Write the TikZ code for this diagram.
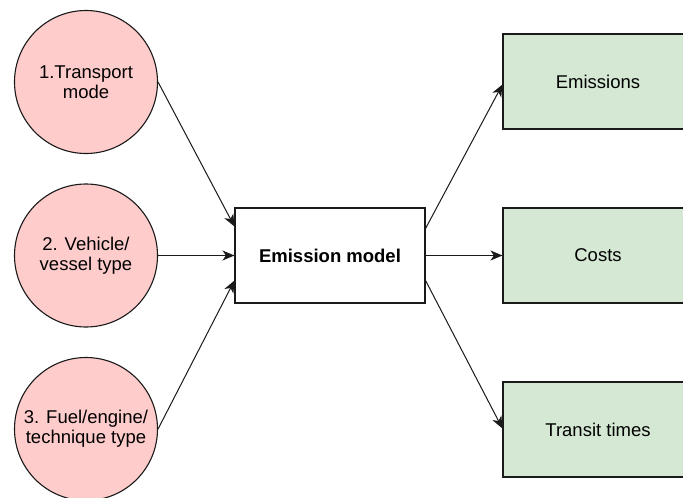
\documentclass[tikz,border=0pt]{standalone}
\usepackage{fontspec}
\setmainfont{Liberation Sans}
\usetikzlibrary{arrows.meta}
\definecolor{inputfill}{HTML}{FFCCCC}
\definecolor{outputfill}{HTML}{D5E8D4}
\definecolor{edgecol}{HTML}{1A1A1A}
\begin{document}
\begin{tikzpicture}[x=1pt,y=-1pt,
  font=\fontsize{18.5}{20}\selectfont,
  inputnode/.style={circle,draw=edgecol,line width=1.1pt,fill=inputfill,
    minimum size=143pt,inner sep=0pt,align=center},
  modelnode/.style={rectangle,draw=edgecol,line width=1.1pt,fill=white,
    minimum width=190pt,minimum height=95pt,inner sep=0pt,align=center,
    font=\fontsize{18.5}{20}\selectfont\bfseries},
  outnode/.style={rectangle,draw=edgecol,line width=1.1pt,fill=outputfill,
    minimum width=190pt,minimum height=95pt,inner sep=0pt,align=center},
  flow/.style={draw=edgecol,line width=1pt,
    -{Stealth[length=12pt,width=10pt,inset=3.5pt]}}]
\useasboundingbox (0,0) rectangle (683,498);
\clip (0,0) rectangle (683,498);
\fill[white] (0,0) rectangle (683,498);

% inputs
\node[inputnode] (mode) at (86,82) {1.Transport\\mode};
\node[inputnode] (vehicle) at (86,255.5) {2. Vehicle/\\vessel type};
\node[inputnode] (fuel) at (86,429) {3. Fuel/engine/\\technique type};

% model
\node[modelnode] (model) at (330,255.5) {Emission model};

% outputs
\node[outnode] (emis) at (598,81.5) {Emissions};
\node[outnode] (costs) at (598,255.5) {Costs};
\node[outnode] (transit) at (598,429.5) {Transit times};

% inputs into the model
\draw[flow] (mode.east) -- ([yshift=29pt]model.west);
\draw[flow] (vehicle.east) -- (model.west);
\draw[flow] (fuel.east) -- ([yshift=-25pt]model.west);

% model to outputs
\draw[flow] ([yshift=27pt]model.east) -- ([yshift=-3pt]emis.west);
\draw[flow] (model.east) -- (costs.west);
\draw[flow] ([yshift=-25pt]model.east) -- ([yshift=1pt]transit.west);
\end{tikzpicture}
\end{document}
